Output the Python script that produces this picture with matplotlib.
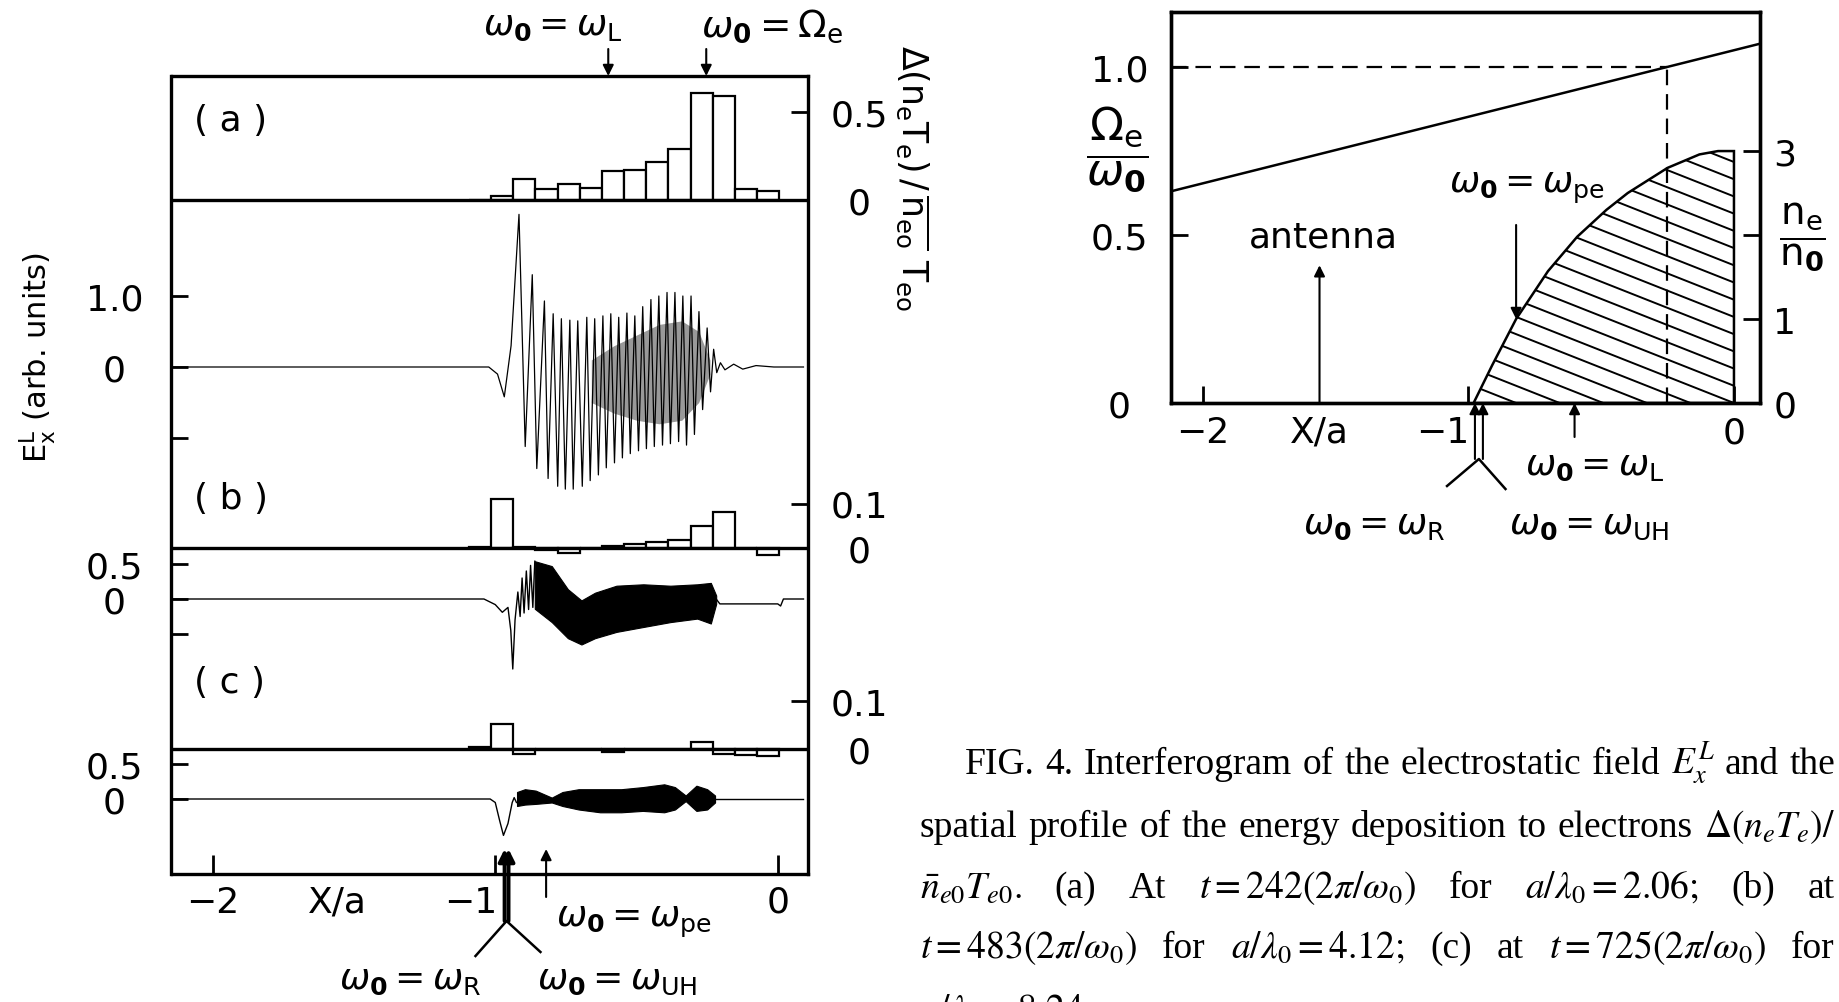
import numpy as np
import matplotlib
matplotlib.use('Agg')
import matplotlib.pyplot as plt
from matplotlib.patches import Polygon

plt.rcParams['font.family'] = 'DejaVu Sans'
plt.rcParams['mathtext.fontset'] = 'dejavusans'

# ---------------- data ----------------
# histogram bins of the energy deposition (x/a), shared by (a), (b), (c)
bin_left = [-1.093, -1.015, -0.9365, -0.858, -0.7795, -0.701, -0.6225,
            -0.544, -0.4655, -0.387, -0.3085, -0.23, -0.1515, -0.073]
bin_w = 0.0785
dep_a = [0.0, 0.02, 0.119, 0.062, 0.09, 0.066, 0.166, 0.172, 0.213, 0.289, 0.604, 0.587, 0.062, 0.053]
dep_b = [0.003, 0.110, 0.002, -0.004, -0.012, 0.0, 0.004, 0.008, 0.013, 0.018, 0.050, 0.080, 0.0, -0.015]
dep_c = [0.004, 0.052, -0.010, 0.0, 0.0, 0.0, -0.006, 0.0, 0.0, 0.0, 0.014, -0.010, -0.012, -0.014]

# E_x^L trace (a): successive extrema of the wave
fa_x = [-2.146, -1.023, -0.992, -0.968, -0.944, -0.916, -0.894, -0.869, -0.853, -0.826,
        -0.813, -0.795, -0.779, -0.766, -0.752, -0.736, -0.724, -0.708, -0.692, -0.676,
        -0.664, -0.648, -0.635, -0.619, -0.607, -0.591, -0.578, -0.563, -0.550, -0.534,
        -0.522, -0.506, -0.493, -0.478, -0.465, -0.449, -0.437, -0.421, -0.408, -0.392,
        -0.380, -0.364, -0.351, -0.336, -0.323, -0.307, -0.295, -0.279, -0.266, -0.250,
        -0.238, -0.227, -0.216, -0.203, -0.187, -0.156, -0.124, -0.077, -0.014, 0.091]
fa_y = [0, 0, -0.10, -0.42, 0.30, 2.15, -1.12, 1.30, -1.43, 0.93,
        -1.57, 0.75, -1.68, 0.68, -1.72, 0.66, -1.72, 0.65, -1.68, 0.70,
        -1.60, 0.68, -1.52, 0.72, -1.42, 0.75, -1.35, 0.70, -1.28, 0.76,
        -1.22, 0.72, -1.18, 0.85, -1.15, 0.95, -1.12, 1.00, -1.10, 1.05,
        -1.08, 1.05, -1.05, 1.00, -1.10, 1.00, -0.95, 0.78, -0.60, 0.55,
        -0.35, 0.25, -0.08, 0.06, -0.04, 0.04, -0.03, 0.02, 0, 0]
# dense core of (a)
fa_core_x = [-0.66, -0.58, -0.50, -0.42, -0.34, -0.28, -0.24]
fa_core_hi = [0.1, 0.3, 0.45, 0.6, 0.65, 0.5, 0.1]
fa_core_lo = [-0.5, -0.65, -0.75, -0.8, -0.75, -0.5, -0.1]

# trace (b)
fb_x = [-2.146, -1.04, -1.0, -0.975, -0.955, -0.945, -0.938, -0.930, -0.920, -0.912,
        -0.905, -0.898, -0.890, -0.882, -0.875, -0.867, -0.860]
fb_y = [0, 0, -0.08, -0.19, -0.12, -0.45, -1.0, -0.3, 0.1, -0.25,
        0.30, -0.2, 0.40, -0.15, 0.48, -0.12, 0.54]
fb_band_x = [-0.86, -0.80, -0.743, -0.695, -0.647, -0.571, -0.476, -0.380, -0.285, -0.237, -0.218]
fb_band_hi = [0.54, 0.47, 0.14, -0.02, 0.09, 0.19, 0.21, 0.19, 0.21, 0.23, 0.05]
fb_band_lo = [-0.14, -0.33, -0.56, -0.65, -0.56, -0.47, -0.40, -0.33, -0.28, -0.35, -0.07]
fb_tail_x = [-0.218, -0.205, 0.0, 0.01, 0.02, 0.091]
fb_tail_y = [0.0, -0.07, -0.07, -0.10, 0.0, 0.0]

# trace (c)
fc_x = [-2.146, -1.018, -1.0, -0.985, -0.971, -0.955, -0.940, -0.933, -0.925]
fc_y = [0, 0, -0.05, -0.30, -0.52, -0.35, -0.05, 0.02, -0.05]
fc_band_x = [-0.923, -0.895, -0.857, -0.80, -0.762, -0.705, -0.629, -0.554, -0.478,
             -0.402, -0.364, -0.326, -0.288, -0.25, -0.222]
fc_band_hi = [0.10, 0.14, 0.12, 0.02, 0.10, 0.14, 0.14, 0.14, 0.17, 0.21, 0.17, 0.05, 0.19, 0.14, 0.05]
fc_band_lo = [-0.10, -0.08, -0.07, -0.05, -0.10, -0.15, -0.19, -0.19, -0.17, -0.19, -0.15, -0.03, -0.17, -0.15, -0.05]
fc_tail_x = [-0.222, 0.091]
fc_tail_y = [0.0, 0.0]

# profiles: cyclotron frequency ratio and density
omega_x = [-2.12, 0.10]
omega_ratio = [0.63, 1.07]
dens_x = [-0.98, -0.91, -0.82, -0.70, -0.59, -0.48, -0.40, -0.25, -0.13, -0.06, 0.0, 0.0]
dens_ne = [0.0, 0.45, 1.0, 1.57, 1.98, 2.30, 2.50, 2.80, 2.96, 3.0, 3.0, 0.0]

# resonance positions (x/a)
res_L = -0.60
res_pe = -0.82
res_R = -0.975
res_UH = -0.945
antenna_x = -1.56
res_ce = np.interp(1.0, omega_ratio, omega_x)

lbl_L = r'$\omega_{\mathbf{0}}=\omega_{\mathrm{L}}$'
lbl_ce = r'$\omega_{\mathbf{0}}=\Omega_{\mathrm{e}}$'
lbl_pe = r'$\omega_{\mathbf{0}}=\omega_{\mathrm{pe}}$'
lbl_R = r'$\omega_{\mathbf{0}}=\omega_{\mathrm{R}}$'
lbl_UH = r'$\omega_{\mathbf{0}}=\omega_{\mathrm{UH}}$'

caption_lines = [
    "FIG. 4.  Interferogram of the electrostatic field $E_x^L$ and the",
    r"spatial profile of the energy deposition to electrons $\Delta(n_eT_e)/$",
    r"$\bar{n}_{e0}T_{e0}.$ (a) At $t=242(2\pi/\omega_0)$ for $a/\lambda_0=2.06;$ (b) at",
    r"$t=483(2\pi/\omega_0)$ for $a/\lambda_0=4.12;$ (c) at $t=725(2\pi/\omega_0)$ for",
    r"$a/\lambda_0=8.24.$",
]

# ---------------- figure ----------------
W, H = 1840, 1003
fig = plt.figure(figsize=(W / 100, H / 100), dpi=100)
FS = 26
arrow = dict(arrowstyle='-|>', color='k', lw=1.5, mutation_scale=16, shrinkA=0, shrinkB=0)


def px_axes(x0, y0, x1, y1):
    return fig.add_axes([x0 / W, 1 - y1 / H, (x1 - x0) / W, (y1 - y0) / H])


# left panel: frame plus one transparent axes per strip
LX0, LX1, LY0, LY1 = 171.5, 808.0, 77.0, 875.0
x_lim = (-2.146, 0.107)


def fy(py):
    return (LY1 - py) / (LY1 - LY0)


frame = px_axes(LX0, LY0, LX1, LY1)
frame.set_xlim(x_lim)
frame.set_ylim(0, 1)
frame.set_yticks([])
frame.set_xticks([-2, -1, 0], [])
frame.tick_params(axis='x', direction='in', length=14, width=2)
for s in frame.spines.values():
    s.set_linewidth(2.4)


def strip(zero_py, px_per_unit, ticks, labels, side, pad):
    ax = px_axes(LX0, LY0, LX1, LY1)
    ax.set_xlim(x_lim)
    ax.set_ylim(-(LY1 - zero_py) / px_per_unit, (zero_py - LY0) / px_per_unit)
    ax.patch.set_visible(False)
    for s in ax.spines.values():
        s.set_visible(False)
    ax.set_xticks([])
    if side == 'right':
        ax.yaxis.tick_right()
    ax.set_yticks(ticks, labels, fontsize=FS, ha='center')
    ax.tick_params(axis='y', direction='in', length=12, width=2, pad=pad)
    return ax


def hist_strip(zero_py, px_per_unit, ticks, labels, vals):
    ax = strip(zero_py, px_per_unit, ticks, labels, 'right', 37)
    ax.bar(bin_left, vals, width=bin_w, align='edge', facecolor='white',
           edgecolor='black', linewidth=1.6, zorder=2)
    ax.axhline(0, color='black', lw=2.4, zorder=3)
    return ax


hist_strip(201, 176.6, [0.5, 0], ['0.5', '0'], dep_a)
hist_strip(549, 445, [0.1, 0], ['0.1', '0'], dep_b)
hist_strip(750, 480, [0.1, 0], ['0.1', '0'], dep_c)

ea = strip(368, 71, [1.0, 0, -1.0], ['1.0', '0', ''], 'left', 41)
ea.plot(fa_x, fa_y, color='black', lw=0.9)
ea.fill_between(fa_core_x, fa_core_lo, fa_core_hi, color='black', alpha=0.4, lw=0)

eb = strip(600, 70, [0.5, 0, -0.5], ['0.5', '0', ''], 'left', 41)
eb.plot(fb_x, fb_y, color='black', lw=1.0)
eb.fill_between(fb_band_x, fb_band_lo, fb_band_hi, color='black', lw=0.8)
eb.plot(fb_tail_x, fb_tail_y, color='black', lw=1.0)

ec = strip(800, 70, [0.5, 0], ['0.5', '0'], 'left', 41)
ec.plot(fc_x, fc_y, color='black', lw=1.0)
ec.fill_between(fc_band_x, fc_band_lo, fc_band_hi, color='black', lw=0.8)
ec.plot(fc_tail_x, fc_tail_y, color='black', lw=1.0)

tr = frame.get_xaxis_transform()
for s, py in (('( a )', 121), ('( b )', 499), ('( c )', 683)):
    frame.text(-2.066, fy(py), s, transform=tr, ha='left', va='center', fontsize=FS)

# resonance markers above and below the left panel
for x in (res_L, res_ce):
    frame.annotate('', xy=(x, fy(77)), xytext=(x, fy(50)), xycoords=tr, textcoords=tr,
                   arrowprops=arrow, annotation_clip=False)
frame.text(-0.797, fy(26), lbl_L, transform=tr, ha='center', va='center', fontsize=FS)
frame.text(-0.020, fy(26), lbl_ce, transform=tr, ha='center', va='center', fontsize=27)

frame.annotate('', xy=(res_pe, fy(850)), xytext=(res_pe, fy(898)), xycoords=tr, textcoords=tr,
               arrowprops=arrow, annotation_clip=False)
thick = dict(arrow, lw=2.8, mutation_scale=18)
for x in (res_R + 0.008, res_UH - 0.008):
    frame.annotate('', xy=(x, fy(850)), xytext=(x, fy(922)), xycoords=tr, textcoords=tr,
                   arrowprops=thick, annotation_clip=False)
xm = 0.5 * (res_R + res_UH)
frame.plot([xm - 0.11, xm, xm + 0.12], [fy(957), fy(922), fy(953)], color='k', lw=1.8,
           transform=tr, clip_on=False)
frame.text(-0.510, fy(922), lbl_pe, transform=tr, ha='center', va='center', fontsize=FS)
frame.text(-1.300, fy(980), lbl_R, transform=tr, ha='center', va='center', fontsize=FS)
frame.text(-0.570, fy(980), lbl_UH, transform=tr, ha='center', va='center', fontsize=FS)

for x, s in ((-2.0, '\u22122'), (-1.56, 'X/a'), (-1.086, '\u22121'), (0.0, '0')):
    frame.text(x, fy(903), s, transform=tr, ha='center', va='center', fontsize=FS)

fig.text(38 / W, 1 - 358 / H, r'$\mathrm{E_x^L}$ (arb. units)', rotation=90,
         ha='center', va='center', fontsize=22)
fig.text(913 / W, 1 - 178 / H,
         r'$\Delta(\mathrm{n_eT_e})\,/\,\overline{\mathrm{n_{eo}}}\ \mathrm{T_{eo}}$',
         rotation=-90, ha='center', va='center', fontsize=25)

# right panel: cyclotron ratio and density profile
RX0, RX1, RY0, RY1 = 1171.0, 1760.0, 13.0, 404.0
r_xlim = (-2.119, 0.098)
r_ytop = 1.164


def fyr(py):
    return (RY1 - py) / (RY1 - RY0)


axr = px_axes(RX0, RY0, RX1, RY1)
axr.set_xlim(r_xlim)
axr.set_ylim(0, r_ytop)
for s in axr.spines.values():
    s.set_linewidth(2.4)
axr.set_xticks([-2, -1, 0], [])
axr.tick_params(axis='x', direction='in', length=12, width=2)
axr.set_yticks([0, 0.5, 1.0], ['0', '0.5', '1.0'], fontsize=FS, ha='center')
axr.tick_params(axis='y', direction='in', length=12, width=2, pad=37)

axr.plot(omega_x, omega_ratio, color='k', lw=1.8)
axr.plot([res_ce, res_ce], [0, 1.0], color='k', lw=1.6, dashes=(7, 4))
axr.axhline(1.0, xmax=(res_ce - r_xlim[0]) / (r_xlim[1] - r_xlim[0]), color='k', lw=1.6,
            dashes=(7, 4))

axn = axr.twinx()
axn.set_ylim(0, 4 * r_ytop)
axn.set_yticks([0, 1, 2, 3], ['0', '1', '', '3'], fontsize=FS, ha='center')
axn.tick_params(axis='y', direction='in', length=12, width=2, pad=18)
for s in axn.spines.values():
    s.set_linewidth(2.4)

prof = Polygon(np.column_stack([dens_x, dens_ne]), closed=True, fill=False,
               edgecolor='k', lw=1.8)
axn.add_patch(prof)
hatch_slope, hatch_step = -1.25, 0.205
hx = np.array([-1.05, 0.05])
for c in np.arange(-6 * hatch_step, 3.3, hatch_step):
    ln, = axn.plot(hx, c + hatch_slope * hx, color='k', lw=1.4)
    ln.set_clip_path(prof)

axr.annotate('', xy=(antenna_x, 0.41), xytext=(antenna_x, 0.0), arrowprops=arrow)
axr.text(-1.547, 0.497, 'antenna', ha='center', va='center', fontsize=FS)
pe_tip = np.interp(res_pe, dens_x[:-1], dens_ne[:-1]) / 4
axr.annotate('', xy=(res_pe, pe_tip), xytext=(res_pe, 0.53), arrowprops=arrow)
axr.text(-0.781, 0.643, lbl_pe, ha='center', va='center', fontsize=FS)

trr = axr.get_xaxis_transform()
axr.annotate('', xy=(res_L, 0), xytext=(res_L, fyr(438)), xycoords=trr, textcoords=trr,
             arrowprops=arrow, annotation_clip=False)
for x in (res_R, res_UH):
    axr.annotate('', xy=(x, 0), xytext=(x, fyr(460)), xycoords=trr, textcoords=trr,
                 arrowprops=arrow, annotation_clip=False)
axr.plot([xm - 0.12, xm, xm + 0.10], [fyr(487), fyr(460), fyr(490)], color='k', lw=1.8,
         transform=trr, clip_on=False)
axr.text(-0.523, fyr(466), lbl_L, transform=trr, ha='center', va='center', fontsize=FS)
axr.text(-1.355, fyr(525), lbl_R, transform=trr, ha='center', va='center', fontsize=FS)
axr.text(-0.546, fyr(525), lbl_UH, transform=trr, ha='center', va='center', fontsize=FS)
for x, s in ((-2.0, '\u22122'), (-1.559, 'X/a'), (-1.097, '\u22121'), (0.0, '0')):
    axr.text(x, fyr(433), s, transform=trr, ha='center', va='center', fontsize=FS)

fig.text(1117 / W, 1 - 150 / H, r'$\dfrac{\Omega_{\mathrm{e}}}{\omega_{\mathbf{0}}}$',
         ha='center', va='center', fontsize=32)
fig.text(1802 / W, 1 - 237 / H, r'$\dfrac{\mathrm{n_e}}{\mathrm{n}_{\mathbf{0}}}$',
         ha='center', va='center', fontsize=28)

# caption, justified word by word
cap_x0 = [965, 920, 920, 920, 920]
cap_x1 = 1835
cap_base = [774, 837, 898, 958, 1021]
renderer = fig.canvas.get_renderer()
for i, line in enumerate(caption_lines):
    words = line.split()
    texts = [fig.text(0, 1 - cap_base[i] / H, w, fontsize=27, family='Liberation Serif',
                      math_fontfamily='stix', va='baseline', ha='left') for w in words]
    widths = [t.get_window_extent(renderer).width for t in texts]
    if i == len(caption_lines) - 1 or len(words) == 1:
        gap = 8
    else:
        gap = max(6, (cap_x1 - cap_x0[i] - sum(widths)) / (len(words) - 1))
    x = cap_x0[i]
    for t, w in zip(texts, widths):
        t.set_x(x / W)
        x += w + gap

fig.savefig('out.png', dpi=100, facecolor='white')
